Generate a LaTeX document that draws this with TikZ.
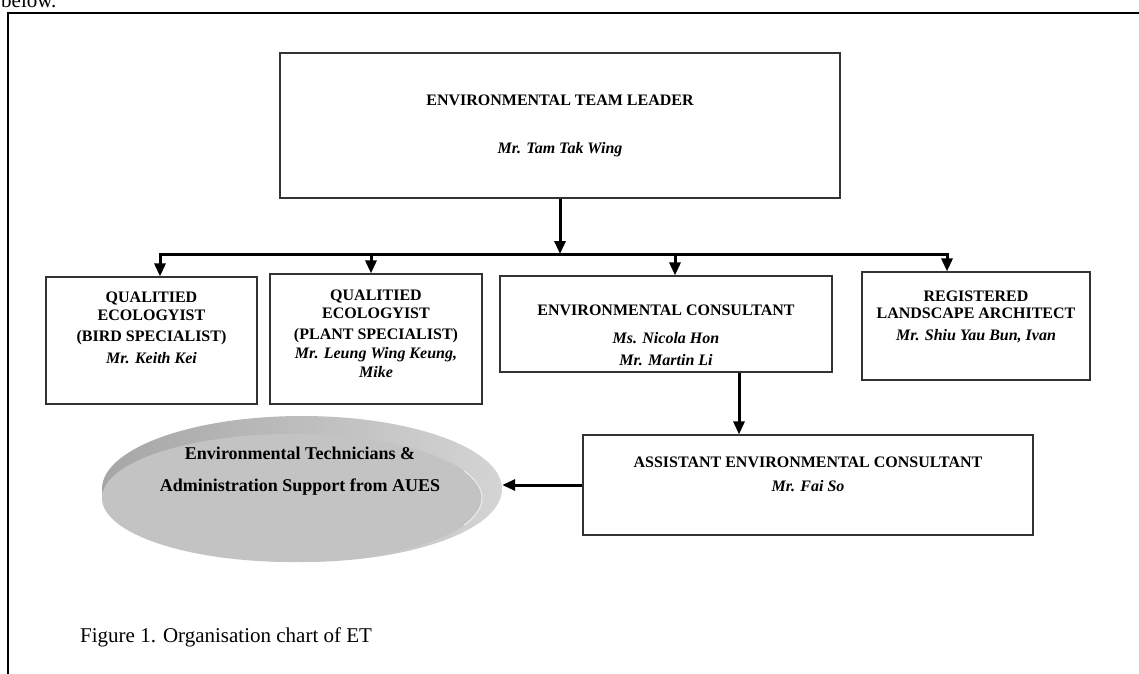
\documentclass[tikz,border=0pt]{standalone}
\usepackage{fontspec}
\setmainfont{Liberation Serif}
\usetikzlibrary{arrows.meta,shapes.geometric}
\definecolor{boxgray}{HTML}{333333}
\definecolor{rimdark}{HTML}{A6A6A6}
\definecolor{rimlight}{HTML}{D4D4D4}
\definecolor{facegray}{HTML}{C3C3C3}
\begin{document}
\begin{tikzpicture}[x=1pt,y=-1pt,
  orgbox/.style={draw=boxgray, line width=1.2pt, rectangle, inner sep=0pt},
  conn/.style={line width=3pt, -{Triangle[width=11pt,length=13pt]}},
  busline/.style={line width=3pt, line cap=rect},
  ttl/.style={font=\fontsize{16}{18}\selectfont\bfseries, align=center, inner sep=0pt},
  nm/.style={font=\fontsize{16}{18}\selectfont\bfseries\itshape, align=center, inner sep=0pt},
  elltxt/.style={font=\fontsize{18}{21}\selectfont\bfseries, align=center, inner sep=0pt},
  plain/.style={font=\fontsize{21}{25}\selectfont, inner sep=0pt},
]
\useasboundingbox (0,0) rectangle (1139,673);
\fill[white] (0,0) rectangle (1139,673);

% text above the frame (cut off)
\node[plain, anchor=base west] (below) at (1,7) {below.};

% frame
\coordinate (frBL) at (8,680);
\coordinate (frTL) at (8,13);
\coordinate (frTR) at (1145,13);
\draw[line width=2.5pt] (frBL) -- (frTL) -- (frTR);

% boxes
\node[orgbox, minimum width=560pt, minimum height=145pt] (top) at (560,125.5) {};
\node[orgbox, minimum width=211pt, minimum height=127pt] (b1) at (151.5,340.5) {};
\node[orgbox, minimum width=212pt, minimum height=130pt] (b2) at (376,339) {};
\node[orgbox, minimum width=332pt, minimum height=96pt] (b3) at (666,324) {};
\node[orgbox, minimum width=228pt, minimum height=108pt] (b4) at (976,326) {};
\node[orgbox, minimum width=450pt, minimum height=100pt] (b5) at (808,485) {};

% texts
\node[ttl] (topT) at (560,100) {ENVIRONMENTAL TEAM LEADER};
\node[nm] (topN) at (560,150) {Mr. Tam Tak Wing};

\node[ttl] (b1T1) at (151.5,298) {QUALITIED};
\node[ttl] (b1T2) at (151.5,315) {ECOLOGYIST};
\node[ttl] (b1T3) at (151.5,338) {(BIRD SPECIALIST)};
\node[nm] (b1N) at (151.5,358) {Mr. Keith Kei};

\node[ttl] (b2T1) at (376,296) {QUALITIED};
\node[ttl] (b2T2) at (376,313) {ECOLOGYIST};
\node[ttl] (b2T3) at (376,336) {(PLANT SPECIALIST)};
\node[nm] (b2N1) at (376,355) {Mr. Leung Wing Keung,};
\node[nm] (b2N2) at (376,372) {Mike};

\node[ttl] (b3T) at (666,310) {ENVIRONMENTAL CONSULTANT};
\node[nm] (b3N1) at (666,338) {Ms. Nicola Hon};
\node[nm] (b3N2) at (666,360) {Mr. Martin Li};

\node[ttl] (b4T1) at (976,296) {REGISTERED};
\node[ttl] (b4T2) at (976,313) {LANDSCAPE ARCHITECT};
\node[nm] (b4N) at (976,336) {Mr. Shiu Yau Bun, Ivan};

\node[ttl] (b5T) at (808,462) {ASSISTANT ENVIRONMENTAL CONSULTANT};
\node[nm] (b5N) at (808,486) {Mr. Fai So};

% 3D ellipse
\node[ellipse, minimum width=400pt, minimum height=146pt, inner sep=0pt,
      left color=rimdark, right color=rimlight] (ell) at (302,489) {};
\fill[facegray] (292,498) ellipse [x radius=190, y radius=64];
\draw[white!70!facegray, line width=1pt] (292,498) ++(-25:190 and 64) arc [start angle=-25, end angle=25, x radius=190, y radius=64];
\node[elltxt] (ellT1) at (300,453) {Environmental Technicians \&};
\node[elltxt] (ellT2) at (300,487) {Administration Support from AUES};

% connectors
\coordinate (busC) at (560,254);
\coordinate (busL) at (160,254);
\coordinate (busR) at (947,254);
\coordinate (drop2) at (371,254);
\coordinate (drop3) at (675,254);
\coordinate (c35) at (739,0);

\draw[conn] (top.south) -- (busC);
\draw[busline] (busL) -- (busR);
\draw[conn] (busL) -- (busL |- b1.north);
\draw[conn] (drop2) -- (drop2 |- b2.north);
\draw[conn] (drop3) -- (drop3 |- b3.north);
\draw[conn] (busR) -- (busR |- b4.north);
\draw[conn] (c35 |- b3.south) -- (c35 |- b5.north);
\draw[conn] (b5.west) -- (ell.east |- b5.west);

% caption
\node[plain, anchor=west] (cap) at (80,637) {Figure 1. Organisation chart of ET};
\end{tikzpicture}
\end{document}
